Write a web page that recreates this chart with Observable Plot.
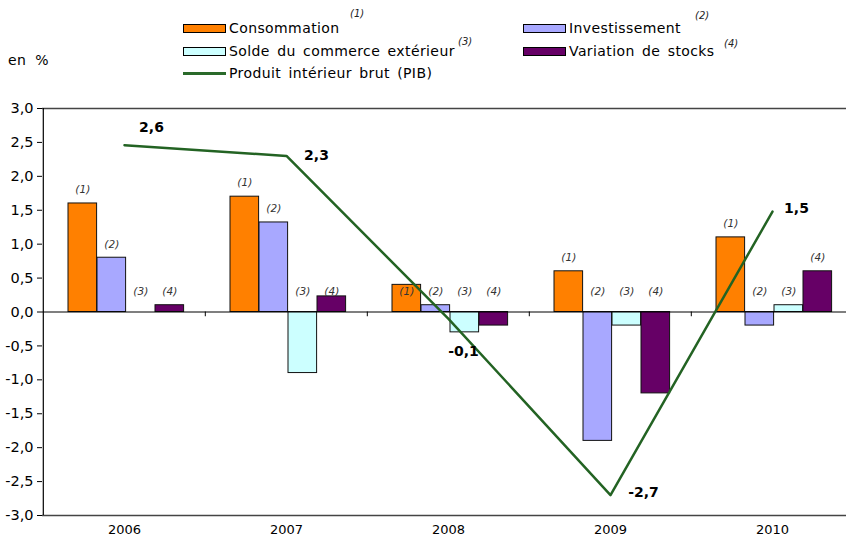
<!DOCTYPE html>
<html><head><meta charset="utf-8">
<script src="https://cdn.jsdelivr.net/npm/d3@7"></script>
<script src="https://cdn.jsdelivr.net/npm/@observablehq/plot@0.6"></script>
<style>
body{margin:0;background:#fff;font-family:'DejaVu Sans',sans-serif;}
#wrap{width:846px;height:541px;overflow:hidden;position:relative;}
#legend{position:relative;width:846px;height:95px;font-size:14px;color:#000;}
#legend .it{position:absolute;white-space:nowrap;line-height:16px;letter-spacing:0.4px;word-spacing:2.5px;}
#legend .sw{position:absolute;width:41px;height:7px;border:1px solid #000;}
#legend .ln{position:absolute;width:43px;height:3px;background:#2A6A2A;}
#legend .sup{position:absolute;font-style:italic;font-size:10px;white-space:nowrap;color:#222;}
svg{display:block;}
</style>
</head><body>
<div id="wrap"><div id="legend"></div><div id="chart"></div></div>
<script>
const years = ["2006", "2007", "2008", "2009", "2010"];
const consommation = [1.6, 1.7, 0.4, 0.6, 1.1];
const investissement = [0.8, 1.32, 0.1, -1.9, -0.2];
const solde = [0, -0.9, -0.3, -0.2, 0.1];
const stocks = [0.1, 0.23, -0.2, -1.2, 0.6];
const pib = [2.46, 2.3, -0.1, -2.7, 1.48];
const pibLabels = ["2,6", "2,3", "-0,1", "-2,7", "1,5"];
const seriesNames = ["Consommation", "Investissement", "Solde du commerce extérieur", "Variation de stocks"];
const seriesTags = ["(1)", "(2)", "(3)", "(4)"];
const lineName = "Produit intérieur brut (PIB)";
const colors = ["#FF8000", "#A8A8FF", "#CCFFFF", "#660066"];
const yTicks = [-3, -2.5, -2, -1.5, -1, -0.5, 0, 0.5, 1, 1.5, 2, 2.5, 3];
const unitLabel = "en %";

const seriesValues = [consommation, investissement, solde, stocks];

// Legend (HTML above the SVG)
const legend = document.getElementById("legend");
function add(cls, style, text) {
  const d = document.createElement("div");
  d.className = cls;
  Object.assign(d.style, style);
  if (text) d.textContent = text;
  legend.appendChild(d);
}
add("it", {left: "8px", top: "52px", fontSize: "14px", wordSpacing: "4px"}, unitLabel);
const legPos = [
  {sx: 183, tx: 229, y: 24, supx: 350, supy: 8},
  {sx: 523, tx: 569, y: 24, supx: 695, supy: 10},
  {sx: 183, tx: 229, y: 47, supx: 458, supy: 36},
  {sx: 523, tx: 569, y: 47, supx: 724, supy: 38}
];
seriesNames.forEach((n, i) => {
  const p = legPos[i];
  add("sw", {left: p.sx + "px", top: p.y + "px", background: colors[i]});
  add("it", {left: p.tx + "px", top: (p.y - 4) + "px"}, n);
  add("sup", {left: p.supx + "px", top: p.supy + "px"}, seriesTags[i]);
});
add("ln", {left: "183px", top: "72px"});
add("it", {left: "229px", top: "65px"}, lineName);

// Chart
const W = 846, H = 446, mL = 42, mR = -8;
const bw = (W - mL - mR) / years.length;
const off = 25, barW = 29;

const barMarks = seriesValues.map((vals, s) =>
  Plot.barY(years.map((y, i) => ({year: y, value: vals[i]})), {
    x: "year", y: "value", fill: colors[s], stroke: "#111", strokeWidth: 1,
    insetLeft: off + barW * s, insetRight: bw - off - barW * (s + 1)
  })
);
const tagMarks = seriesValues.map((vals, s) =>
  Plot.text(years.map((y, i) => ({year: y, value: vals[i]})), {
    x: "year", y: d => d.value > 0.5 ? d.value + 0.2 : 0.3,
    text: () => seriesTags[s], dx: off + barW * s + barW / 2 - bw / 2,
    fontStyle: "italic", fontSize: 10.5, fill: "#333"
  })
);
const pibData = years.map((y, i) => ({year: y, value: pib[i], label: pibLabels[i]}));
const pibOffsets = [[27, -18], [30, 0], [15, 33], [33, -3], [24, -3]];
const pibTextMarks = pibData.map((d, i) =>
  Plot.text([d], {x: "year", y: "value", text: "label", dx: pibOffsets[i][0], dy: pibOffsets[i][1],
    fontWeight: "bold", fontSize: 14, fill: "#000"})
);

const chart = Plot.plot({
  width: W, height: H,
  marginTop: 13, marginBottom: 26, marginLeft: mL, marginRight: mR,
  style: {fontFamily: "'DejaVu Sans', sans-serif", background: "#fff", overflow: "visible"},
  x: {domain: years, padding: 0, axis: null, label: null},
  y: {domain: [-3, 3], axis: null, label: null},
  marks: [
    Plot.axisY({ticks: yTicks, tickFormat: d => d.toFixed(1).replace(".", ","), tickSize: 5, tickPadding: 4, fontSize: 14.5, stroke: "#000", label: null}),
    Plot.axisX({anchor: "bottom", tickSize: 0, tickPadding: 9, fontSize: 13, label: null}),
    ...barMarks,
    Plot.ruleY([3, -3], {stroke: "#444", strokeWidth: 1.5}),
    Plot.ruleY([0], {stroke: "#000", strokeWidth: 1.2}),
    Plot.ruleX([years[0]], {x: d => d, dx: -bw / 2, y1: -3, y2: 3, stroke: "#000", strokeWidth: 1.2}),
    Plot.ruleX(years.slice(1), {x: d => d, dx: -bw / 2, y1: 0, y2: -0.07, stroke: "#000"}),
    ...tagMarks,
    Plot.line(pibData, {x: "year", y: "value", stroke: "#236323", strokeWidth: 2.5}),
    ...pibTextMarks
  ]
});
document.getElementById("chart").appendChild(chart);
</script>
</body></html>
